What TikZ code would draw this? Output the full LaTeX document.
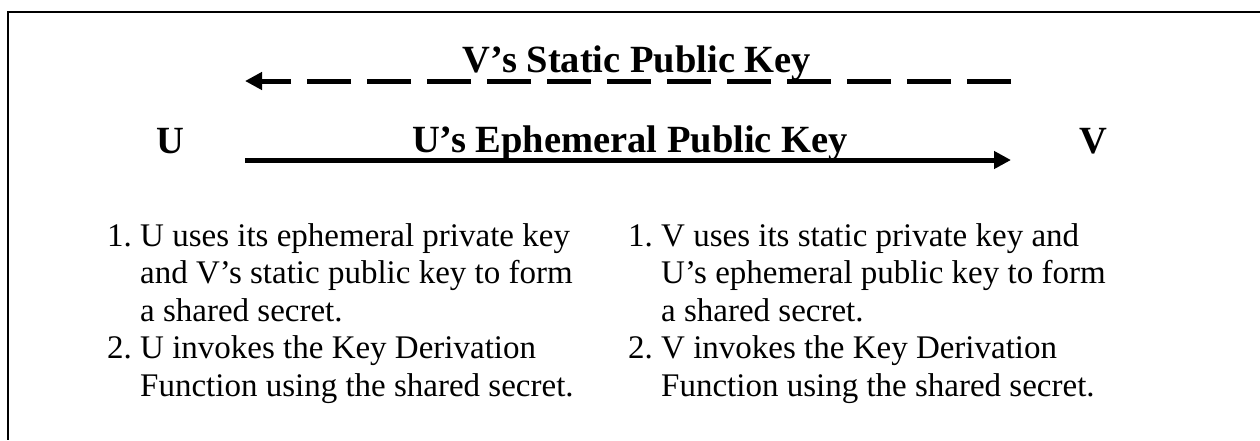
\documentclass[tikz,border=0pt]{standalone}
\usepackage{fontspec}
\setmainfont{Liberation Serif}
\usetikzlibrary{arrows.meta}
\newcommand{\itemlab}[1]{\makebox[1em][l]{#1}}
\newcommand{\contind}{\hspace*{1em}}
\begin{document}
\begin{tikzpicture}[x=1pt,y=-1pt,
  frameline/.style={line width=2.2pt, black},
  keyarrow/.style={line width=5pt, -{Triangle[length=17pt,width=17pt]}},
  staticarrow/.style={keyarrow, dash pattern=on 44pt off 16pt},
  party/.style={font=\fontsize{38.5}{40}\selectfont\bfseries, anchor=base, inner sep=0pt},
  keylabel/.style={font=\fontsize{38.5}{40}\selectfont\bfseries, anchor=base, inner sep=0pt},
  steps/.style={font=\fontsize{33}{37.5}\selectfont, anchor=base west, inner sep=0pt}]
\useasboundingbox (0,0) rectangle (1260,440);
\coordinate (tl) at (8,12);
\coordinate (tr) at (1260,12);
\coordinate (bl) at (8,440);
\draw[frameline] (tr) -- (tl) -- (bl);
\node[party] (U) at (170,153) {U};
\node[party] (V) at (1093,153) {V};
\coordinate (vstart) at (1011,81);
\coordinate (vend) at (245,81);
\coordinate (ustart) at (245,160);
\coordinate (uend) at (1011,160);
\draw[staticarrow] (vstart) -- (vend);
\draw[keyarrow] (ustart) -- (uend);
\node[keylabel] (vkey) at (637,72) {V’s Static Public Key};
\node[keylabel] (ukey) at (630,152) {U’s Ephemeral Public Key};
\node[steps] (usteps) at (107,246) {\begin{tabular}[t]{@{}l@{}}
\itemlab{1.}U uses its ephemeral private key\\
\contind and V’s static public key to form\\
\contind a shared secret.\\
\itemlab{2.}U invokes the Key Derivation\\
\contind Function using the shared secret.
\end{tabular}};
\node[steps] (vsteps) at (628,246) {\begin{tabular}[t]{@{}l@{}}
\itemlab{1.}V uses its static private key and\\
\contind U’s ephemeral public key to form\\
\contind a shared secret.\\
\itemlab{2.}V invokes the Key Derivation\\
\contind Function using the shared secret.
\end{tabular}};
\end{tikzpicture}
\end{document}
